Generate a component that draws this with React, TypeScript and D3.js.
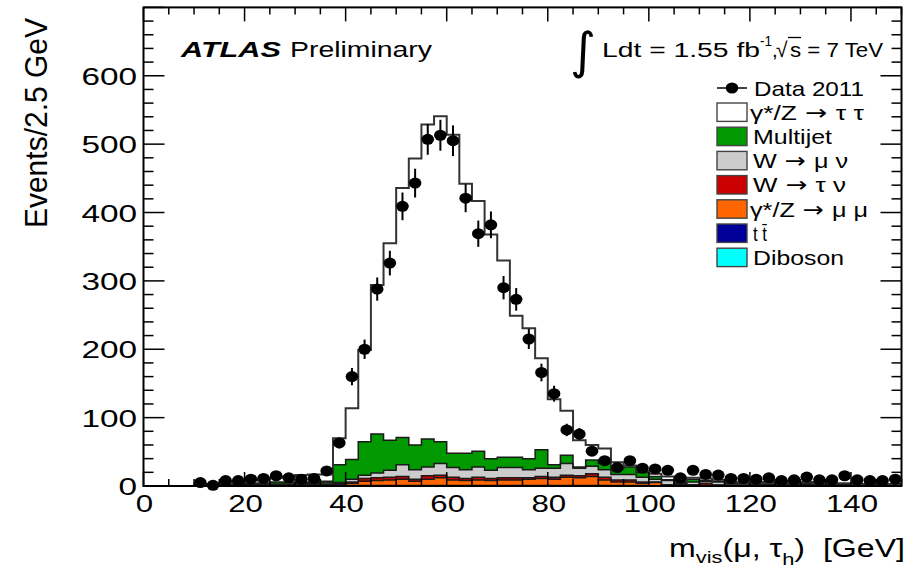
import React from 'react';
import * as d3 from 'd3';

// Histogram binning: 60 bins of 2.5 GeV from 0 to 150 GeV
const BIN_WIDTH = 2.5;
const N_BINS = 60;

// Observed events per bin
const dataCounts = [
  0, 0, 0, 0, 5, 1, 8, 8, 10, 11, 15, 12, 10, 11, 22,
  63, 160, 200, 288, 326, 409, 443, 507, 513, 505, 421, 369, 382, 290, 273,
  215, 166, 135, 82, 76, 51, 37, 27, 37, 26,
  25, 23, 12, 23, 17, 16, 11, 11, 10, 12, 8, 9, 13, 9, 9, 15, 9, 8, 8, 10,
];

// Expected events per bin, one array per process
const ztautau = [
  0, 0, 0, 0, 1, 1.5, 3, 3, 4.5, 5.5, 6, 8.5, 11, 11, 10,
  39, 75, 134, 218, 288, 365, 419, 460, 476, 466, 394, 366, 328, 288, 207,
  191, 134, 96, 65, 39, 22, 22, 10, 2, 2,
  4, 5, 2, 2, 3, 2, 2, 1, 2, 3, 3, 2, 2, 1, 1.5, 1, 1, 1, 1, 1,
];
const multijet = [
  0, 0, 0, 0, 0.5, 0.5, 0.8, 1.5, 1.5, 2, 3, 2.5, 1.5, 2, 2.5,
  26, 29, 49, 57, 44, 40, 36, 41, 32, 21, 24, 23, 17, 15, 15,
  16, 27, 5, 12, 2, 9, 9, 8, 11, 7,
  4, 1, 1, 4, 1, 1, 1, 1, 0.5, 0.5, 1, 1, 2, 1, 1, 1, 0.5, 0.5, 1, 0.5,
];
const wmunu = [
  0, 0, 0, 0, 0.2, 0.5, 0.5, 0.7, 1, 1.3, 1.5, 1.2, 1.5, 1.8, 2,
  1.5, 4, 5, 7, 10, 17, 14, 13, 17, 14, 13, 15, 12, 15, 15,
  12, 12, 13, 17, 11, 11, 11, 8, 8, 7,
  4, 6, 1.5, 4, 3, 4.5, 2, 2, 1.5, 1.7, 2.2, 1.3, 1.3, 1.4, 0.9, 1.5, 1, 1, 0.6, 1.1,
];
const wtaunu = [
  0, 0, 0, 0, 0.1, 0.2, 0.3, 0.3, 0.4, 0.4, 0.5, 0.6, 0.5, 0.7, 0.5,
  1, 2, 4, 4, 4, 4, 3, 5, 4, 4, 3, 4, 3, 3, 3,
  2, 3, 3, 3, 3, 4, 4, 3, 3, 2,
  1, 1, 0.5, 1, 3, 0.5, 0.2, 0.5, 0.5, 0.3, 0.3, 0.3, 0.3, 0.2, 0.3, 0.2, 0.2, 0.2, 0.2, 0.2,
];
const zmumu = [
  0, 0, 0, 0, 0.1, 0.1, 0.2, 0.3, 0.4, 0.6, 0.8, 1, 1.3, 1.3, 1.8,
  1.6, 3, 6, 7, 8, 9, 6, 9, 11, 8, 7, 8, 7, 8, 8,
  9, 10, 9, 12, 11, 13, 8, 5, 5, 3,
  4.7, 0.7, 1.7, 0.7, 0.7, 0.7, 0.5, 0.2, 0.2, 0.2, 0.2, 0.1, 0.1, 0.1, 0.1, 0.1, 0, 0, 0, 0,
];
const ttbar = [
  0, 0, 0, 0, 0.1, 0.1, 0.1, 0.1, 0.1, 0.1, 0.1, 0.1, 0.1, 0.1, 0.1,
  0.6, 0.6, 0.6, 0.6, 0.6, 0.6, 0.6, 0.6, 0.6, 0.6, 0.6, 0.6, 0.6, 0.6, 0.6,
  0.6, 0.6, 0.6, 0.6, 0.6, 0.6, 0.6, 0.6, 0.6, 0.6,
  0.2, 0.2, 0.2, 0.2, 0.2, 0.2, 0.2, 0.2, 0.2, 0.2, 0.2, 0.2, 0.2, 0.2, 0.2, 0.2, 0.2, 0.2, 0.2, 0.2,
];
const diboson = [
  0, 0, 0, 0, 0.1, 0.1, 0.1, 0.1, 0.1, 0.1, 0.1, 0.1, 0.1, 0.1, 0.1,
  0.3, 0.3, 0.3, 0.3, 0.3, 0.3, 0.3, 0.3, 0.3, 0.3, 0.3, 0.3, 0.3, 0.3, 0.3,
  0.3, 0.3, 0.3, 0.3, 0.3, 0.3, 0.3, 0.3, 0.3, 0.3,
  0.1, 0.1, 0.1, 0.1, 0.1, 0.1, 0.1, 0.1, 0.1, 0.1, 0.1, 0.1, 0.1, 0.1, 0.1, 0.1, 0.1, 0.1, 0.1, 0.1,
];

// Stack order, bottom to top
const stackKeys = ['diboson', 'ttbar', 'zmumu', 'wtaunu', 'wmunu', 'multijet', 'ztautau'];
const processValues: Record<string, number[]> = { diboson, ttbar, zmumu, wtaunu, wmunu, multijet, ztautau };
const processColors: Record<string, string> = {
  ztautau: '#ffffff',
  multijet: '#009900',
  wmunu: '#cccccc',
  wtaunu: '#cc0000',
  zmumu: '#ff6600',
  ttbar: '#000099',
  diboson: '#00ffff',
};

// Legend entries (after the data entry)
const legendKeys = ['ztautau', 'multijet', 'wmunu', 'wtaunu', 'zmumu', 'ttbar', 'diboson'];
const legendLabels = ['γ*/Z→τ τ', 'Multijet', 'W→μ ν', 'W→τ ν', 'γ*/Z→μ μ', 't t\u0304', 'Diboson'];
const legendLabelLengths = [114, 79, 95, 93, 118, 14, 91];

// Axis ticks
const yTickValues = [0, 100, 200, 300, 400, 500, 600];
const xTickValues = [0, 20, 40, 60, 80, 100, 120, 140];

const FONT = '"Liberation Sans", Arial, Helvetica, sans-serif';

type StepPt = { x: number; lo: number; hi: number };

// Splits a label at the arrow so the arrow can use a font with a long arrow glyph
function labelParts(label: string) {
  const parts = label.split('→');
  if (parts.length === 1) return label;
  return (
    <>
      {parts[0]}
      <tspan fontFamily='"DejaVu Sans", sans-serif'>{' → '}</tspan>
      {parts[1]}
    </>
  );
}

export default function App() {
  const W = 923;
  const H = 571;
  const x = d3.scaleLinear().domain([0, 150]).range([143.5, 901.5]);
  const y = d3.scaleLinear().domain([0, 700]).range([486, 7.4]);

  const rows = d3.range(N_BINS).map((i) => {
    const r: Record<string, number> = {};
    stackKeys.forEach((k) => (r[k] = processValues[k][i]));
    return r;
  });
  const series = d3.stack<Record<string, number>>().keys(stackKeys)(rows);

  const stepPoints = (s: d3.Series<Record<string, number>, string>): StepPt[] =>
    s.flatMap((d, i) => [
      { x: x(i * BIN_WIDTH), lo: d[0], hi: d[1] },
      { x: x((i + 1) * BIN_WIDTH), lo: d[0], hi: d[1] },
    ]);

  const area = d3
    .area<StepPt>()
    .x((p) => p.x)
    .y0((p) => y(p.lo))
    .y1((p) => y(p.hi));
  const topLine = d3
    .line<StepPt>()
    .x((p) => p.x)
    .y((p) => y(p.hi));

  const x0 = x.range()[0];
  const x1 = x.range()[1];
  const yBottom = y.range()[0];
  const yTop = y.range()[1];

  const yMinor = d3.range(0, 701, 20);
  const xMinor = d3.range(0, 151, 5);

  const legendRowY = (i: number) => 88 + i * 24.2;

  return (
    <svg
      width={W}
      height={H}
      viewBox={`0 0 ${W} ${H}`}
      style={{ position: 'absolute', left: 0, top: 0, background: '#fff' }}
      fontFamily={FONT}
    >
      <rect x={0} y={0} width={W} height={H} fill="#fff" />

      {/* stacked expectation */}
      {series.map((s) => (
        <path key={`a-${s.key}`} d={area(stepPoints(s)) || ''} fill={processColors[s.key]} stroke="none" />
      ))}
      {series.map((s) => (
        <path
          key={`l-${s.key}`}
          d={topLine(stepPoints(s)) || ''}
          fill="none"
          stroke={s.key === 'ztautau' ? '#333' : '#1a1a1a'}
          strokeWidth={s.key === 'ztautau' ? 2 : 1.5}
        />
      ))}

      {/* data with statistical errors */}
      {dataCounts.map((v, i) => {
        if (v <= 0) return null;
        const cx = x((i + 0.5) * BIN_WIDTH);
        const e = Math.sqrt(v);
        return (
          <g key={`d-${i}`}>
            <line x1={cx} x2={cx} y1={y(v - e)} y2={y(v + e)} stroke="#000" strokeWidth={2} />
            <ellipse cx={cx} cy={y(v)} rx={6.3} ry={5.5} fill="#000" />
          </g>
        );
      })}

      {/* frame and ticks */}
      <rect x={x0} y={yTop} width={x1 - x0} height={yBottom - yTop} fill="none" stroke="#000" strokeWidth={2} />
      {yMinor.map((v) => {
        const len = v % 100 === 0 ? 21 : 10;
        return (
          <g key={`yt-${v}`}>
            <line x1={x0} x2={x0 + len} y1={y(v)} y2={y(v)} stroke="#000" strokeWidth={1.5} />
            <line x1={x1} x2={x1 - len} y1={y(v)} y2={y(v)} stroke="#000" strokeWidth={1.5} />
          </g>
        );
      })}
      {xMinor.map((m) => {
        const len = m % 20 === 0 ? 14 : 7;
        return (
          <g key={`xt-${m}`}>
            <line x1={x(m)} x2={x(m)} y1={yBottom} y2={yBottom - len} stroke="#000" strokeWidth={1.5} />
            <line x1={x(m)} x2={x(m)} y1={yTop} y2={yTop + len} stroke="#000" strokeWidth={1.5} />
          </g>
        );
      })}

      {/* tick labels */}
      {yTickValues.map((v) => (
        <text
          key={`yl-${v}`}
          transform={`translate(137,${y(v) + 9}) scale(1.45,1)`}
          textAnchor="end"
          fontSize={23}
          fill="#000"
        >
          {v}
        </text>
      ))}
      {xTickValues.map((m) => (
        <text
          key={`xl-${m}`}
          transform={`translate(${x(m) + 1},512) scale(1.3,1)`}
          textAnchor="middle"
          fontSize={24}
          fill="#000"
        >
          {m}
        </text>
      ))}

      {/* axis titles */}
      <text transform="translate(47,18) rotate(-90) scale(1,1.05)" textAnchor="end" fontSize={30} fill="#000">
        Events/2.5 GeV
      </text>
      <text x={669} y={557} fontSize={25} fill="#000" textLength={236} lengthAdjust="spacingAndGlyphs">
        m<tspan fontSize={17} dy={6}>vis</tspan>
        <tspan dy={-6}>(μ, τ</tspan>
        <tspan fontSize={17} dy={8}>h</tspan>
        <tspan dy={-8}>{')\u00a0\u00a0[GeV]'}</tspan>
      </text>

      {/* experiment label */}
      <text
        x={181}
        y={56.5}
        fontSize={22}
        fontWeight="bold"
        fontStyle="italic"
        fill="#000"
        textLength={100}
        lengthAdjust="spacingAndGlyphs"
      >
        ATLAS
      </text>
      <text x={290} y={56.5} fontSize={22} fill="#000" textLength={142} lengthAdjust="spacingAndGlyphs">
        Preliminary
      </text>

      {/* luminosity and energy */}
      <text x={570} y={68} fontSize={50} fill="#000" fontFamily='"DejaVu Sans", sans-serif'>
        ∫
      </text>
      <text x={602} y={56.5} fontSize={20.5} fill="#000" textLength={158} lengthAdjust="spacingAndGlyphs">
        Ldt = 1.55 fb
      </text>
      <text x={760} y={46} fontSize={14} fill="#000" textLength={12} lengthAdjust="spacingAndGlyphs">
        -1
      </text>
      <text x={772} y={56.5} fontSize={20.5} fill="#000">
        ,
      </text>
      <text x={776} y={57} fontSize={21} fill="#000">
        √
      </text>
      <line x1={788} x2={801} y1={37.5} y2={37.5} stroke="#000" strokeWidth={1.3} />
      <text x={790} y={56.5} fontSize={20.5} fill="#000" textLength={93} lengthAdjust="spacingAndGlyphs">
        s = 7 TeV
      </text>

      {/* legend */}
      <g>
        <line x1={717} x2={747} y1={legendRowY(0)} y2={legendRowY(0)} stroke="#000" strokeWidth={1.5} />
        <ellipse cx={732} cy={legendRowY(0)} rx={6.3} ry={5.5} fill="#000" />
        <text
          x={754}
          y={legendRowY(0) + 7.5}
          fontSize={21}
          fill="#000"
          textLength={110}
          lengthAdjust="spacingAndGlyphs"
        >
          Data 2011
        </text>
        {legendKeys.map((k, i) => {
          const cy = legendRowY(i + 1);
          return (
            <g key={`lg-${k}`}>
              <rect x={717} y={cy - 9.2} width={30} height={18.4} fill={processColors[k]} stroke="#444" strokeWidth={1.4} />
              <text
                x={i === 0 || i === 4 ? 750 : 753}
                y={cy + 7.5}
                fontSize={21}
                fill="#000"
                textLength={legendLabelLengths[i]}
                lengthAdjust="spacingAndGlyphs"
              >
                {labelParts(legendLabels[i])}
              </text>
            </g>
          );
        })}
      </g>
    </svg>
  );
}
